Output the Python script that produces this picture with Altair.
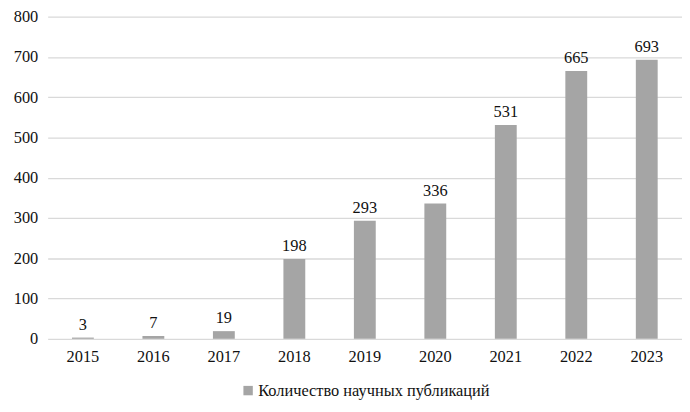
import altair as alt
import pandas as pd

years = ["2015", "2016", "2017", "2018", "2019", "2020", "2021", "2022", "2023"]
values = [3, 7, 19, 198, 293, 336, 531, 665, 693]
series = "Количество научных публикаций"

df = pd.DataFrame({"year": years, "value": values, "series": [series] * len(years)})

FONT = "Liberation Serif"

base = alt.Chart(df).encode(
    x=alt.X("year:N", sort=years,
            scale=alt.Scale(paddingInner=0.69, paddingOuter=0.345),
            axis=alt.Axis(title=None, labelAngle=0, domain=False, ticks=False,
                          labelPadding=10, labelFontSize=16.5, labelFont=FONT,
                          labelColor="#111111", grid=False)),
)

bars = base.mark_bar(color="#a5a5a5").encode(
    y=alt.Y("value:Q", scale=alt.Scale(domain=[0, 800], nice=False),
            axis=alt.Axis(title=None, values=list(range(0, 801, 100)),
                          domain=False, ticks=False, labelPadding=10,
                          labelFontSize=16.5, labelFont=FONT, labelColor="#111111",
                          grid=True, gridColor="#d9d9d9", gridWidth=1.3)),
    color=alt.Color("series:N", scale=alt.Scale(range=["#a5a5a5"]),
                    legend=alt.Legend(title=None, orient="none", legendX=194, legendY=369,
                                      symbolType="square", symbolSize=90,
                                      symbolStrokeWidth=0, labelFontSize=16.5,
                                      labelFont=FONT, labelColor="#111111",
                                      labelOffset=2, labelLimit=0)),
)

labels = base.mark_text(dy=-13, fontSize=16.5, font=FONT, color="#111111").encode(
    y=alt.Y("value:Q"),
    text=alt.Text("value:Q"),
)

chart = (bars + labels).properties(
    width=640, height=325,
    autosize=alt.AutoSizeParams(type="none"),
    padding={"left": 40, "top": 7, "right": 0, "bottom": 60},
).configure_view(stroke=None)

chart.save("out.html", embed_options={"renderer": "svg", "actions": False})
